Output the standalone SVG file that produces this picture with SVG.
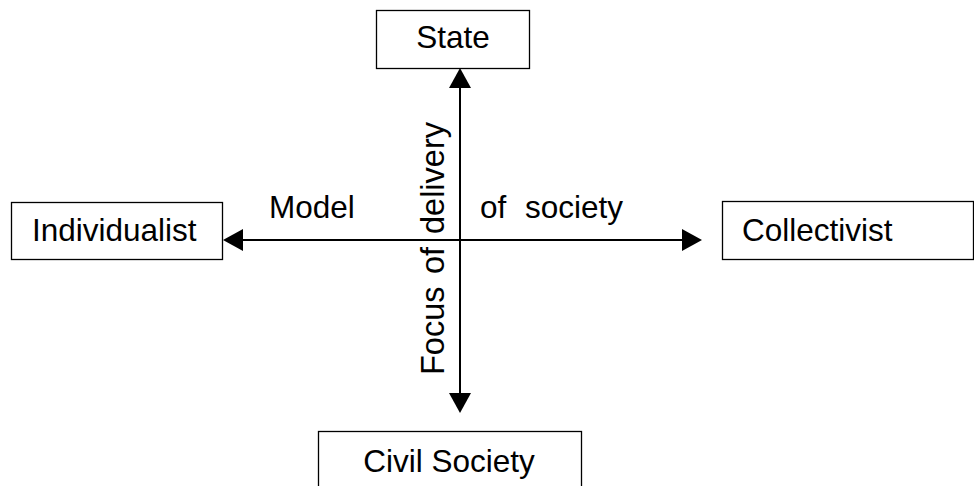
<svg xmlns="http://www.w3.org/2000/svg" width="974" height="486" viewBox="0 0 974 486">
<style>
.box{fill:#fff;stroke:#000;stroke-width:1.3}
.t{font-family:"Liberation Sans",Arial,sans-serif;font-size:31.5px;fill:#000}
.v{font-size:32.5px}
.ax{stroke:#000;stroke-width:2;fill:none}
</style>
<defs>
<marker id="ah" markerUnits="userSpaceOnUse" markerWidth="20" markerHeight="22" viewBox="0 0 20 22" refX="10" refY="11" orient="auto-start-reverse">
<path d="M0,0 L20,11 L0,22 z" fill="#000"/>
</marker>
</defs>
<rect width="974" height="486" fill="#fff"/>
<g id="connectors">
<line class="ax" x1="233" y1="240" x2="692" y2="240" marker-start="url(#ah)" marker-end="url(#ah)"/>
<line class="ax" x1="460" y1="78" x2="460" y2="403" marker-start="url(#ah)" marker-end="url(#ah)"/>
</g>
<g id="state">
<rect class="box" x="376.5" y="10.5" width="153" height="58"/>
<text class="t" x="453" y="48" text-anchor="middle">State</text>
</g>
<g id="individualist">
<rect class="box" x="11.5" y="202.5" width="211" height="57"/>
<text class="t" x="32" y="241">Individualist</text>
</g>
<g id="collectivist">
<rect class="box" x="722.5" y="201.5" width="251" height="58"/>
<text class="t" x="742" y="241">Collectivist</text>
</g>
<g id="civil-society">
<rect class="box" x="318.5" y="431.5" width="263" height="60"/>
<text class="t" x="449" y="472" text-anchor="middle">Civil Society</text>
</g>
<g id="labels">
<text class="t" x="269" y="218">Model</text>
<text class="t" x="480" y="218">of</text>
<text class="t" x="525" y="218">society</text>
<g transform="translate(444,375) rotate(-90)">
<text class="t v" x="0" y="0">Focus</text>
<text class="t v" x="101" y="0">of</text>
<text class="t v" x="141" y="0">delivery</text>
</g>
</g>
</svg>
